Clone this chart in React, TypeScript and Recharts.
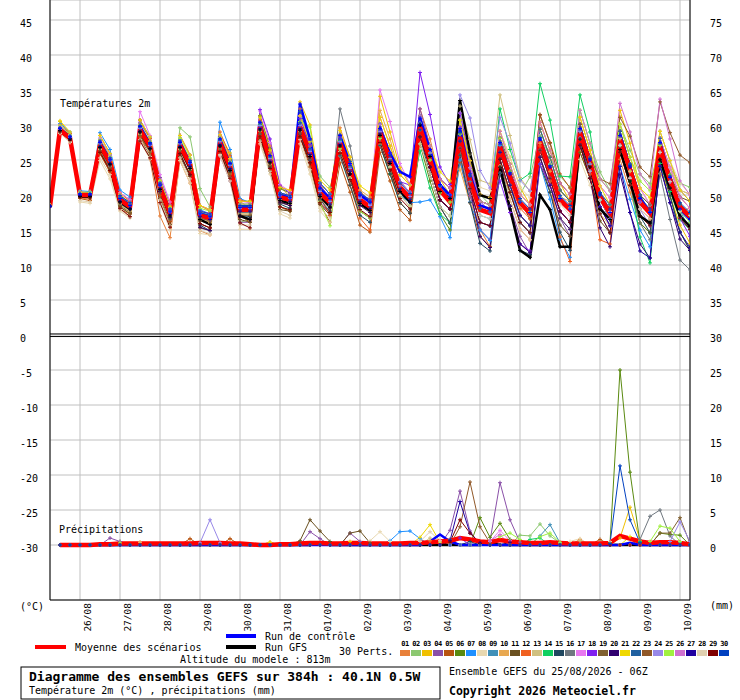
import {
  ComposedChart,
  Line,
  XAxis,
  YAxis,
  CartesianGrid,
  ReferenceLine,
} from "recharts";

// 6-hourly steps from 25/08 06Z (index 0) to +384h (index 64)
const DAY_LABELS = [
  "26/08", "27/08", "28/08", "29/08", "30/08", "31/08", "01/09", "02/09",
  "03/09", "04/09", "05/09", "06/09", "07/09", "08/09", "09/09", "10/09",
];
const DAY_STEPS = [3, 7, 11, 15, 19, 23, 27, 31, 35, 39, 43, 47, 51, 55, 59, 63];
const TEMP_TICKS = [-30, -25, -20, -15, -10, -5, 0, 5, 10, 15, 20, 25, 30, 35, 40, 45];
const MM_TICKS = [0, 5, 10, 15, 20, 25, 30, 35, 40, 45, 50, 55, 60, 65, 70, 75];

const MEMBER_COLORS = [
  "#E8803A", "#8CC870", "#F0C000", "#8A50A8", "#B85410", "#5A8A10", "#1E90FF", "#E8D8B0",
  "#4090B8", "#E8A850", "#6A5020", "#F06020", "#D0C080", "#10D060", "#204860", "#707880",
  "#E878F0", "#8020F0", "#806030", "#300070", "#F0D800", "#2060A0", "#905828", "#9888E8",
  "#A0F040", "#D070D0", "#2000A0", "#E0D0B0", "#800000", "#0040C0",
];

// temperature 2m (°C)
const MEAN_T = [18.4, 29.3,28.1,20.0,20.0, 27.1,24.7,19.3,18.3, 29.3,26.9,21.1,17.4, 27.1,24.3,17.1,16.7, 27.4,24.0,17.9,17.9, 29.7,25.0,19.7,19.3, 29.7,26.0,20.3,18.9, 27.4,23.6,19.3,18.3, 28.9,25.0,21.1,19.6, 29.7,25.0,20.7,19.0, 28.3,22.1,17.9,17.4, 26.9,22.6,18.9,17.4, 27.6,23.6,19.3,17.9, 28.9,24.6,19.7,17.4, 27.9,23.6,19.0,17.4, 26.9,22.1,18.3,16.9];
const CTRL_T = [18.4, 29.5,28.3,20.1,20.1, 27.5,25.0,19.5,18.5, 29.8,27.3,21.4,17.6, 27.5,24.6,17.3,16.9, 28.0,24.5,18.2,18.2, 30.4,25.6,20.0,19.6, 33.0,28.0,21.0,19.5, 28.5,24.5,20.0,19.0, 29.5,26.0,23.3,22.6, 31.0,26.5,21.5,20.0, 29.5,23.0,18.5,18.0, 27.5,23.0,19.0,17.5, 28.0,24.0,19.5,18.0, 29.5,25.0,20.0,17.5, 28.5,24.0,19.5,17.5, 27.5,22.5,18.0,16.5];
const GFS_T = [18.4, 29.2,28.0,19.8,19.8, 26.8,24.4,19.0,18.0, 29.0,26.6,20.8,17.0, 26.8,23.8,16.5,15.8, 27.0,23.5,17.0,16.5, 29.3,24.6,19.2,18.8, 29.3,25.5,19.8,18.3, 27.0,23.0,18.8,17.8, 28.5,24.5,20.5,19.0, 30.0,25.5,20.5,19.5, 33.5,26.0,20.0,19.5, 24.0,18.0,12.1,11.1, 20.0,17.9,12.6,12.6, 28.0,24.0,18.0,16.5, 26.5,22.0,17.0,16.0, 25.0,21.0,17.0,15.5];

const T01 = [18.4, 29.8,28.5,19.6,19.4, 25.9,23.3,17.9,17.3, 28.7,25.1,17.0,13.9, 24.9,21.7,14.9,14.3, 28.6,25.0,19.1,18.1, 31.3,27.0,21.3,19.7, 32.3,28.0,21.7,20.1, 29.6,25.4,20.7,18.7, 31.1,27.0,22.9,21.4, 32.3,28.0,22.3,21.0, 25.7,19.9,15.1,12.6, 24.1,19.4,15.1,13.6, 30.4,26.4,21.7,20.1, 31.1,26.4,20.3,18.6, 25.1,20.4,16.0,14.6, 23.1,20.9,17.7,18.1];
const T02 = [18.3, 29.0,27.8,20.3,20.5, 26.5,24.3,19.7,18.9, 29.7,27.5,21.9,18.2, 29.6,28.3,20.9,18.3, 26.6,23.0,16.1,16.5, 28.3,24.0,18.3,17.7, 31.3,28.0,22.7,21.1, 25.6,21.4,17.7,16.7, 27.1,23.0,19.9,18.4, 27.3,23.0,18.3,17.0, 30.7,24.9,20.1,18.6, 23.1,20.4,20.1,22.6, 28.4,25.4,22.7,21.1, 32.1,27.4,23.3,20.6, 30.1,26.4,23.0,21.6, 27.1,23.9,21.7,21.1];
const T03 = [18.5, 30.5,28.8,19.8,19.7, 27.9,25.3,18.7,17.7, 30.7,28.1,20.9,16.6, 27.9,24.7,17.9,16.3, 28.6,26.0,19.1,19.1, 30.3,26.0,20.3,19.7, 33.3,30.0,21.7,19.1, 28.6,24.4,19.7,17.7, 34.1,29.0,23.9,21.4, 31.3,27.0,22.3,20.0, 29.7,24.9,20.1,19.6, 29.1,25.4,21.1,18.6, 30.4,26.4,21.7,19.1, 26.1,22.4,17.3,15.6, 32.1,27.4,21.0,18.6, 24.1,19.9,15.7,13.1];
const T04 = [18.4, 29.5,28.3,20.2,20.1, 27.9,25.7,20.3,19.3, 30.3,28.1,22.5,18.6, 26.9,23.7,15.9,15.3, 25.6,22.0,16.1,16.1, 29.3,25.0,19.3,18.7, 28.3,25.0,18.7,17.1, 27.6,24.4,19.7,18.7, 30.1,26.0,21.9,20.4, 32.3,27.0,21.3,19.0, 26.7,19.9,15.1,13.6, 23.1,18.4,14.1,11.6, 25.4,21.4,16.7,14.1, 27.1,23.4,18.3,16.6, 29.1,24.4,20.0,18.6, 29.1,24.9,20.7,19.1];
const T05 = [18.3, 29.2,28.0,19.5,19.2, 25.9,23.3,18.3,17.3, 28.3,26.1,19.9,16.2, 25.9,22.7,15.9,15.3, 26.6,23.0,17.1,16.1, 28.3,24.0,18.3,17.7, 28.3,24.0,18.7,16.1, 24.6,20.4,15.7,14.7, 26.1,22.0,17.9,16.4, 27.3,23.0,18.3,16.0, 24.7,18.9,14.1,12.6, 27.1,23.4,19.1,17.6, 31.4,27.5,23.0,21.0, 30.1,25.4,19.3,16.6, 28.1,23.4,19.0,17.6, 28.1,23.9,19.7,18.1];
const T06 = [18.5, 29.6,28.4,20.4,20.3, 27.3,24.9,19.5,18.5, 29.1,26.7,20.5,17.0, 28.5,25.7,18.5,17.9, 28.2,25.0,19.1,19.1, 31.3,26.6,20.9,20.3, 30.3,27.0,21.7,20.1, 26.6,22.4,18.7,17.7, 27.1,23.0,18.9,17.4, 27.3,22.0,17.3,15.0, 28.7,22.9,18.1,17.6, 25.1,20.4,16.1,14.6, 26.4,22.4,17.7,16.1, 30.1,25.4,20.3,17.6, 26.1,21.4,16.0,14.6, 25.1,19.9,14.7,12.1];
const T07 = [18.4, 30.2,29.0,20.6,20.5, 28.9,26.5,20.7,19.7, 30.7,28.3,22.1,18.2, 27.9,24.7,17.9,17.3, 30.4,26.5,19.5,18.9, 30.3,26.0,20.3,19.7, 31.3,27.0,21.7,20.1, 27.6,23.4,18.7,17.7, 29.0,24.5,20.0,18.9, 19.0,19.3,16.9,13.9, 25.0,19.0,15.0,13.5, 27.1,21.4,16.1,14.6, 24.4,19.4,13.7,11.1, 27.1,22.4,17.3,14.6, 24.1,19.4,15.0,12.6, 24.1,20.9,17.7,16.1];
const T08 = [18.3, 28.8,27.5,19.0,18.8, 24.9,22.3,17.7,16.7, 27.7,25.1,18.9,15.0, 24.9,21.7,14.5,14.3, 25.6,22.0,15.1,15.1, 27.3,23.0,17.3,16.7, 27.3,23.0,17.7,16.1, 25.6,22.4,17.7,16.7, 27.1,24.0,19.9,18.4, 28.3,24.0,19.3,18.0, 31.7,25.9,21.1,20.6, 29.1,25.4,21.1,19.6, 24.4,20.4,16.7,15.1, 25.1,21.4,17.3,15.6, 30.1,25.4,21.0,18.6, 29.1,24.9,21.7,20.1];
const T09 = [18.4, 29.4,28.2,20.1,20.0, 26.9,24.5,19.1,18.1, 29.5,27.1,21.3,17.6, 27.3,24.5,17.3,16.9, 27.8,24.4,18.1,18.1, 29.9,25.4,19.9,19.5, 30.3,26.4,20.7,19.1, 28.2,24.4,20.3,19.3, 30.1,26.0,21.9,20.4, 31.3,26.0,21.3,20.0, 27.7,21.9,17.1,16.6, 26.1,21.4,17.1,15.6, 28.4,24.4,19.7,18.1, 29.1,24.4,19.3,16.6, 29.1,24.4,20.0,18.6, 27.1,21.9,17.7,15.1];
const T10 = [18.5, 29.0,27.9,19.9,19.9, 26.7,24.1,18.7,17.7, 28.7,26.1,20.5,16.6, 26.5,23.7,16.5,16.1, 27.0,23.6,17.3,17.3, 29.1,24.6,19.1,18.7, 29.1,25.6,19.7,18.3, 28.6,25.4,20.7,19.7, 32.1,28.0,22.9,21.4, 30.3,26.0,21.3,20.0, 23.7,18.9,16.1,15.6, 24.1,20.4,18.1,17.6, 27.4,23.4,19.7,19.1, 30.1,25.4,21.3,19.6, 28.1,23.4,19.0,17.6, 28.1,23.9,20.7,20.1];
const T11 = [18.3, 29.1,27.7,19.7,19.6, 26.1,23.7,18.3,17.3, 27.9,25.7,19.5,15.8, 25.5,22.7,15.3,14.9, 26.2,22.6,16.5,16.1, 27.9,23.4,17.9,17.7, 28.3,24.6,18.7,17.1, 26.2,22.4,17.7,16.7, 28.1,24.0,19.9,18.4, 28.3,24.0,19.3,18.0, 29.7,23.9,19.1,18.6, 28.1,24.4,19.1,16.6, 25.4,20.4,15.7,14.1, 26.1,22.4,16.3,14.6, 26.1,22.4,18.0,16.6, 26.1,22.9,19.7,19.1];
const T12 = [18.6, 30.0,28.8,20.5,20.2, 28.5,25.9,20.3,19.1, 30.7,28.1,21.9,17.8, 28.5,25.7,18.5,17.7, 29.0,25.6,19.3,18.9, 30.7,26.0,20.3,19.5, 31.3,27.0,19.7,17.1, 26.6,21.4,16.7,15.0, 28.1,24.0,18.9,17.4, 29.3,25.0,20.3,19.0, 28.7,22.9,18.1,17.6, 26.1,21.4,18.1,16.6, 27.0,22.0,14.0,10.5, 28.0,23.0,13.6,13.0, 27.1,22.4,18.0,16.6, 27.1,22.9,18.7,17.1];
const T13 = [18.4, 29.3,28.0,19.8,19.8, 26.5,24.1,18.7,17.7, 28.7,26.3,20.5,17.0, 26.5,23.7,16.7,16.3, 26.6,23.4,17.3,17.3, 29.3,24.4,19.3,18.7, 29.3,25.6,20.1,18.7, 27.0,23.2,18.7,17.7, 28.1,24.0,19.9,18.4, 30.3,26.0,21.3,20.0, 32.7,27.9,22.1,21.6, 34.3,28.5,22.5,20.5, 29.4,25.4,20.7,19.1, 29.1,24.4,19.3,17.6, 28.1,23.4,19.0,17.6, 28.1,23.9,20.7,20.1];
const T14 = [18.5, 29.7,28.5,20.3,20.2, 27.5,25.1,19.7,18.7, 29.7,27.3,21.5,17.8, 27.5,24.7,17.5,17.1, 27.8,24.4,18.3,18.3, 30.1,25.4,20.1,19.7, 30.3,26.6,20.9,19.5, 27.8,24.0,19.7,18.7, 29.1,25.0,20.9,19.4, 26.3,21.0,17.3,16.0, 29.7,23.9,19.1,18.6, 32.3,26.5,22.1,23.1, 35.9,30.7,22.7,22.6, 34.3,29.0,20.0,16.5, 27.0,22.0,14.0,10.3, 24.5,20.5,16.5,15.0];
const T15 = [18.4, 29.4,28.1,20.0,19.9, 26.9,24.3,19.1,17.9, 29.1,26.5,20.7,16.6, 25.9,22.9,15.7,14.9, 27.0,23.4,17.1,16.9, 28.7,24.0,18.7,18.1, 28.7,25.0,19.3,17.7, 25.6,21.4,17.1,16.1, 27.1,23.0,18.9,17.4, 28.3,23.0,18.3,16.0, 25.7,18.9,13.1,12.0, 23.1,18.4,12.1,11.5, 24.4,20.4,14.7,12.1, 27.1,23.4,18.3,16.6, 27.1,22.4,17.0,14.6, 25.1,19.9,14.7,12.1];
const T16 = [18.4, 29.1,27.9,19.9,19.8, 26.7,24.1,18.7,17.9, 28.9,26.5,20.7,16.8, 26.7,23.9,16.7,16.3, 27.0,23.6,17.5,17.5, 29.3,24.6,19.3,18.9, 29.3,25.6,19.9,18.5, 32.3,27.0,19.7,17.7, 28.1,24.0,19.9,18.4, 28.3,24.0,19.3,18.0, 26.7,20.9,16.1,15.6, 25.1,20.4,16.1,14.6, 26.4,22.4,17.7,16.1, 28.1,23.4,18.3,15.6, 26.1,21.4,16.0,13.6, 23.0,16.5,10.7,9.3];
const T17 = [18.5, 29.8,28.6,20.4,20.3, 28.1,25.7,20.3,19.3, 31.9,28.5,22.9,19.0, 28.5,25.7,18.5,17.9, 28.6,25.2,19.1,18.9, 32.0,27.5,21.5,20.5, 31.3,28.0,21.7,20.1, 28.6,24.4,19.7,18.7, 35.0,30.5,24.5,21.5, 31.3,27.0,22.3,21.0, 29.7,23.9,20.1,19.6, 28.1,23.4,20.1,18.6, 28.4,24.4,19.7,18.1, 30.1,25.4,21.3,19.6, 30.1,25.4,21.0,18.6, 28.1,23.9,19.7,18.1];
const T18 = [18.4, 29.6,28.4,20.2,20.1, 27.7,25.3,19.9,18.9, 29.9,27.5,21.7,17.8, 27.7,24.9,17.7,17.3, 28.2,24.8,18.7,18.7, 32.2,28.0,21.3,20.3, 30.9,27.2,21.3,19.7, 28.2,24.4,20.3,19.3, 29.1,26.0,21.9,21.4, 37.5,31.5,24.0,21.5, 31.7,24.9,19.1,17.6, 22.0,17.5,13.0,12.0, 24.4,21.4,17.7,16.1, 28.1,23.4,18.3,15.6, 29.1,24.4,19.0,17.6, 27.1,21.9,16.7,14.1];
const T19 = [18.3, 29.0,27.8,19.8,19.7, 26.3,23.9,18.5,17.5, 28.5,26.1,20.3,16.6, 26.3,23.5,16.3,15.9, 26.6,23.2,17.1,17.1, 28.7,24.2,18.9,18.5, 28.9,25.2,19.5,18.1, 26.6,23.0,18.7,17.7, 28.1,25.0,21.9,20.4, 31.3,27.0,22.3,21.0, 27.7,22.9,19.1,18.6, 26.1,21.4,17.1,15.6, 29.4,25.4,20.7,19.1, 29.1,24.4,19.3,16.6, 29.1,24.4,20.0,18.6, 27.1,22.9,18.7,17.1];
const T20 = [18.4, 29.3,28.1,20.0,20.0, 26.8,24.3,19.0,18.0, 29.0,26.6,20.5,16.8, 26.9,24.1,15.4,14.9, 27.0,23.6,17.0,16.5, 29.5,24.8,19.0,18.5, 29.2,25.5,19.8,18.2, 27.0,23.0,18.5,17.5, 28.5,24.5,20.5,19.0, 28.3,24.0,19.3,18.0, 26.7,20.9,14.1,12.5, 25.1,18.4,13.0,11.8, 25.4,21.4,16.7,15.1, 27.1,22.4,15.3,12.6, 23.0,17.5,13.0,11.0, 24.1,18.9,13.7,12.1];
const T21 = [18.5, 30.6,29.0,20.3,20.3, 28.5,25.9,20.1,18.9, 30.7,28.3,22.1,18.4, 28.5,25.7,18.5,17.9, 28.6,25.2,19.1,19.1, 31.1,26.4,21.1,20.7, 31.3,27.6,22.1,20.7, 29.2,25.4,21.3,20.3, 31.1,27.0,22.9,21.4, 31.3,27.0,23.3,22.0, 30.7,24.9,20.1,19.6, 29.1,24.4,20.1,18.6, 29.4,25.4,20.7,19.1, 31.1,26.4,21.3,18.6, 30.1,25.4,21.0,19.6, 29.1,24.9,20.7,19.1];
const T22 = [18.4, 29.5,28.3,20.2,20.1, 27.5,25.1,19.7,18.7, 29.7,27.3,21.5,17.8, 27.7,24.7,17.5,17.1, 27.8,24.4,18.3,18.3, 30.3,25.6,20.3,19.9, 31.9,28.0,21.7,20.1, 28.6,24.8,20.3,19.3, 30.1,26.0,21.9,20.4, 31.3,26.0,21.3,20.0, 28.7,22.9,18.1,17.6, 28.1,23.4,19.1,17.6, 29.4,25.4,20.7,19.1, 30.1,25.4,20.3,18.6, 29.1,24.4,20.0,17.6, 28.1,22.9,18.7,17.1];
const T23 = [18.4, 29.2,28.0,19.9,19.9, 26.7,24.3,18.9,18.1, 28.9,26.5,20.7,17.0, 26.7,23.9,16.7,16.3, 27.2,23.8,17.7,17.7, 29.5,24.8,19.5,19.1, 29.5,25.8,20.1,18.7, 27.0,23.4,19.1,18.1, 28.7,25.0,20.9,19.4, 29.3,25.0,20.3,19.0, 29.7,22.9,19.1,18.6, 28.1,23.4,19.1,17.6, 31.5,27.4,21.7,20.1, 30.1,25.4,22.3,21.6, 31.1,28.4,24.0,22.6, 33.3,28.9,25.7,24.6];
const T24 = [18.4, 29.4,28.2,20.1,20.0, 27.3,24.9,19.5,18.5, 29.5,27.1,21.3,17.6, 27.3,24.5,17.3,16.9, 27.6,24.2,18.1,18.1, 29.9,25.2,19.9,19.5, 29.9,26.2,20.5,19.1, 27.6,23.8,19.5,18.5, 29.1,25.2,21.3,19.8, 30.3,26.0,21.3,20.0, 34.3,31.0,23.5,21.0, 31.1,27.4,22.1,20.6, 28.4,24.4,19.7,18.1, 29.1,24.4,19.3,16.6, 27.1,22.4,18.0,15.6, 26.1,20.9,16.7,15.1];
const T25 = [18.5, 29.9,28.6,20.4,20.4, 27.9,25.5,19.9,18.9, 30.1,27.7,21.9,18.2, 28.1,25.3,18.1,17.7, 28.2,24.8,18.7,18.7, 30.3,25.6,20.3,19.9, 30.5,29.7,19.0,15.6, 26.6,22.4,17.7,16.7, 28.1,24.0,19.9,18.4, 29.3,25.0,20.3,19.0, 28.7,22.9,19.1,18.6, 28.1,23.4,19.1,17.6, 28.4,24.4,19.7,18.1, 32.1,27.4,22.3,20.6, 30.1,25.4,22.0,20.6, 27.1,22.9,17.7,16.1];
const T26 = [18.4, 29.6,28.4,20.2,20.1, 27.7,25.3,19.9,18.9, 29.9,27.5,21.7,18.0, 27.7,24.9,17.7,17.3, 28.0,24.6,18.5,18.5, 30.3,25.6,20.3,19.9, 30.3,26.6,20.9,19.5, 28.0,24.2,19.9,18.9, 30.1,26.0,21.9,20.4, 31.3,27.0,22.3,21.0, 29.7,23.9,19.1,18.6, 29.1,24.4,20.1,18.6, 30.4,26.4,21.7,20.1, 32.1,27.4,22.3,20.6, 33.1,29.0,23.0,21.0, 33.7,28.0,22.0,20.0];
const T27 = [18.3, 29.2,28.0,19.9,19.9, 26.9,24.5,19.1,18.1, 29.1,26.7,20.9,17.2, 26.9,24.1,16.9,16.5, 27.2,23.8,17.7,17.7, 29.5,24.8,19.5,19.1, 29.5,25.8,20.1,18.7, 27.2,23.4,19.1,18.1, 28.7,24.8,20.9,19.4, 29.3,24.0,19.3,18.0, 27.7,20.9,16.1,15.6, 26.1,21.4,17.1,15.6, 26.4,22.4,17.7,16.1, 28.1,23.4,18.3,15.6, 24.1,17.5,12.0,11.0, 24.1,18.9,14.7,12.5];
const T28 = [18.3, 28.9,27.6,19.2,19.0, 25.3,22.9,17.9,16.9, 27.9,25.5,19.3,15.6, 25.3,22.3,14.9,14.5, 25.8,22.4,15.7,15.7, 27.7,23.4,17.7,17.1, 27.9,23.6,18.1,16.7, 26.2,22.4,17.9,16.9, 27.5,24.0,19.9,18.4, 27.3,23.0,18.3,17.0, 26.7,20.9,17.1,16.6, 24.1,19.4,15.1,13.6, 26.4,22.4,18.7,17.1, 28.1,23.4,19.3,17.6, 27.1,22.4,18.0,16.6, 26.1,21.9,17.7,17.1];
const T29 = [18.4, 29.0,27.8,19.7,19.6, 26.1,23.5,18.1,16.9, 27.7,25.3,18.9,15.4, 25.9,22.9,15.9,15.3, 26.2,22.4,16.0,15.3, 28.3,23.8,18.3,17.9, 28.3,24.6,18.9,17.5, 26.0,22.2,17.9,16.9, 27.5,23.6,19.5,18.0, 28.3,24.0,19.3,18.0, 26.7,20.9,16.1,15.6, 25.1,20.4,16.1,14.6, 26.4,22.4,17.7,16.1, 27.1,22.4,17.3,14.6, 26.1,21.4,17.0,15.6, 25.1,20.9,16.7,15.1];
const T30 = [18.4, 29.6,28.4,20.2,20.2, 27.7,25.3,19.9,18.9, 29.9,27.5,21.7,18.0, 27.7,24.9,17.7,17.3, 28.0,24.6,18.5,18.5, 30.3,25.6,20.3,19.9, 30.3,26.6,20.9,19.5, 28.0,24.2,19.9,18.9, 29.5,25.6,21.7,20.2, 30.3,25.6,21.3,19.6, 28.9,22.7,18.5,18.0, 27.5,23.2,19.5,18.0, 28.2,24.2,19.9,18.5, 29.5,25.2,20.3,18.0, 28.5,24.2,19.6,18.0, 27.5,22.7,18.9,17.5];
const TEMP_MEMBERS = [T01, T02, T03, T04, T05, T06, T07, T08, T09, T10, T11, T12, T13, T14, T15, T16, T17, T18, T19, T20, T21, T22, T23, T24, T25, T26, T27, T28, T29, T30];

// precipitation (mm per 6h); first step has no value
const MEAN_P = [null, 0.0,0.0,0.0,0.0,0.1,0.1,0.2,0.2, 0.2,0.2,0.2,0.2,0.2,0.2,0.3,0.3, 0.3,0.2,0.2,0.1,0.0,0.0,0.1,0.1, 0.2,0.3,0.3,0.2,0.2,0.3,0.3,0.2, 0.2,0.2,0.2,0.3,0.3,0.4,0.5,0.6, 1.0,0.8,0.5,0.4,0.7,0.5,0.4,0.3, 0.3,0.4,0.3,0.2,0.2,0.2,0.2,0.3, 1.3,0.9,0.5,0.3,0.4,0.4,0.3,0.1];
// rainy steps only [step, mm]; other steps are dry
const CTRL_P = [[38, 0.5], [39, 1.5], [40, 0.5], [58, 0.3]];
const GFS_P = [[27, 0.4], [44, 0.3]];
const P01 = [[38, 0.6], [53, 0.8]];
const P02 = [[7, 0.5], [47, 1.4], [48, 1.3], [49, 3.0], [50, 1.3], [51, 0.3]];
const P03 = [[30, 0.5], [57, 1.0], [58, 5.4], [59, 0.7]];
const P04 = [[6, 1.0], [7, 0.5], [26, 1.9], [27, 0.9], [30, 1.7], [31, 0.5], [40, 2.1], [41, 7.7], [42, 2.0], [44, 0.6], [45, 8.9], [46, 3.6], [47, 0.4]];
const P05 = [[14, 0.9], [18, 0.9], [55, 0.8]];
const P06 = [[43, 3.9], [44, 1.1], [45, 3.1], [46, 0.8], [56, 0.3], [57, 25.0], [58, 10.4], [59, 0.3], [61, 1.7], [62, 1.5], [63, 1.4]];
const P07 = [[34, 0.6], [35, 1.9], [36, 2.0], [37, 0.9], [39, 0.4]];
const P08 = [[9, 0.4], [32, 0.6], [33, 1.9], [34, 0.5], [52, 0.5], [53, 0.9]];
const P09 = [[49, 1.3], [50, 2.9], [51, 0.3], [63, 0.4]];
const P10 = [[9, 0.4], [22, 0.4]];
const P11 = [[25, 0.6], [26, 3.6], [27, 2.0], [28, 0.5], [30, 1.7], [31, 2.0], [32, 0.3]];
const P12 = [[40, 0.3]];
const P13 = [[38, 1.0], [53, 0.6]];
const P14 = [[48, 0.8], [49, 1.0], [59, 0.5]];
const P15 = [[42, 0.5]];
const P16 = [[59, 0.8], [60, 4.1], [61, 5.0], [62, 1.3]];
const P17 = [[39, 0.6], [44, 0.5], [45, 2.1], [46, 0.6]];
const P18 = [[41, 1.0]];
const P19 = [[61, 1.7], [62, 1.7], [63, 3.9], [64, 0.2]];
const P20 = [[46, 0.4]];
const P21 = [[22, 0.4], [37, 1.1], [38, 2.9], [39, 0.4], [58, 1.2]];
const P22 = [[40, 0.8]];
const P23 = [[41, 2.6], [42, 9.0], [43, 2.6], [44, 0.3]];
const P24 = [[15, 0.3], [16, 3.6], [17, 0.3], [62, 0.5], [63, 3.3], [64, 0.5]];
const P25 = [[7, 0.3], [45, 1.2], [46, 1.7], [47, 0.8], [49, 1.2], [50, 1.7], [51, 0.4], [60, 0.5], [61, 2.7], [62, 2.4], [63, 0.5]];
const P26 = [[44, 0.6], [45, 1.5]];
const P27 = [[40, 0.6], [41, 6.2], [42, 1.7], [43, 0.3]];
const P28 = [[37, 0.5], [38, 1.9], [39, 0.6], [56, 0.5]];
const P29 = [[40, 0.4], [41, 3.6], [42, 1.7], [43, 0.2]];
const P30 = [[56, 0.2], [57, 11.3], [58, 3.6], [59, 0.3]];
const PRECIP_MEMBERS = [P01, P02, P03, P04, P05, P06, P07, P08, P09, P10, P11, P12, P13, P14, P15, P16, P17, P18, P19, P20, P21, P22, P23, P24, P25, P26, P27, P28, P29, P30];

function rainSeries(events: number[][]) {
  const s: (number | null)[] = MEAN_P.map((v) => (v === null ? null : 0));
  events.forEach(([i, mm]) => {
    s[i] = mm;
  });
  return s;
}

const ctrlRain = rainSeries(CTRL_P);
const gfsRain = rainSeries(GFS_P);
const memberRain = PRECIP_MEMBERS.map(rainSeries);

const data = MEAN_T.map((m, i) => {
  const row: Record<string, number | null> = {
    i,
    tm: m,
    tc: CTRL_T[i],
    tg: GFS_T[i],
    pm: MEAN_P[i],
    pc: ctrlRain[i],
    pg: gfsRain[i],
  };
  TEMP_MEMBERS.forEach((s, k) => {
    row[`t${k}`] = s[i];
    row[`p${k}`] = memberRain[k][i];
  });
  return row;
});

const MONO = "'DejaVu Sans Mono', monospace";

// eslint-disable-next-line @typescript-eslint/no-explicit-any
function Cross(props: any) {
  const { cx, cy, stroke, index } = props;
  if (cx == null || cy == null || Number.isNaN(cy)) return <g key={`c${index}`} />;
  return (
    <path
      key={`c${index}`}
      d={`M${cx - 2},${cy}h4M${cx},${cy - 2}v4`}
      stroke={stroke}
      strokeWidth={1}
      fill="none"
    />
  );
}

// eslint-disable-next-line @typescript-eslint/no-explicit-any
function LeftTick(props: any) {
  const { y, payload } = props;
  return (
    <text x={20} y={y + 7} fontFamily={MONO} fontSize={10} fill="#000">
      {payload.value}
    </text>
  );
}

// eslint-disable-next-line @typescript-eslint/no-explicit-any
function RightTick(props: any) {
  const { y, payload } = props;
  return (
    <text x={710} y={y + 7} fontFamily={MONO} fontSize={10} fill="#000">
      {payload.value}
    </text>
  );
}

// eslint-disable-next-line @typescript-eslint/no-explicit-any
function DateTick(props: any) {
  const { x, payload } = props;
  const k = DAY_STEPS.indexOf(payload.value);
  const ax = x + 11;
  const ay = 603;
  return (
    <text
      x={ax}
      y={ay}
      transform={`rotate(-90, ${ax}, ${ay})`}
      textAnchor="end"
      fontFamily={MONO}
      fontSize={9.5}
      fill="#000"
    >
      {DAY_LABELS[k]}
    </text>
  );
}

function Overlay() {
  return (
    <svg
      width={740}
      height={700}
      style={{ position: "absolute", left: 0, top: 0, pointerEvents: "none" }}
      fontFamily={MONO}
      fontSize={10}
    >
      <text x={60} y={107}>Températures 2m</text>
      <text x={59} y={533}>Précipitations</text>
      <text x={20} y={610}>(°C)</text>
      <text x={710} y={609}>(mm)</text>

      <line x1={35} x2={66} y1={647} y2={647} stroke="#ff0000" strokeWidth={4} />
      <text x={75} y={651}>Moyenne des scénarios</text>
      <line x1={226} x2={256} y1={636} y2={636} stroke="#0000ff" strokeWidth={4} />
      <text x={265} y={640}>Run de contrôle</text>
      <line x1={226} x2={256} y1={647} y2={647} stroke="#000" strokeWidth={4} />
      <text x={265} y={651}>Run GFS</text>
      <text x={339} y={655}>30 Perts.</text>
      <text x={180} y={663}>Altitude du modele : 813m</text>

      {MEMBER_COLORS.map((c, k) => (
        <g key={c + k}>
          <text
            x={405 + 11 * k}
            y={646}
            fontSize={7}
            fontWeight="bold"
            textAnchor="middle"
            letterSpacing={-0.4}
          >
            {String(k + 1).padStart(2, "0")}
          </text>
          <rect x={400 + 11 * k} y={650} width={10} height={6} fill={c} />
        </g>
      ))}

      <rect x={21} y={667} width={419} height={32} fill="none" stroke="#000" strokeWidth={1} />
      <text x={29} y={681} fontSize={13} fontWeight="bold">
        Diagramme des ensembles GEFS sur 384h : 40.1N 0.5W
      </text>
      <text x={29} y={694}>Température 2m (°C) , précipitations (mm)</text>
      <text x={449} y={675}>Ensemble GEFS du 25/08/2026 - 06Z</text>
      <text x={449} y={695} fontSize={11.5} fontWeight="bold">
        Copyright 2026 Meteociel.fr
      </text>
    </svg>
  );
}

export default function App() {
  return (
    <div
      style={{
        position: "absolute",
        left: 0,
        top: 0,
        width: 740,
        height: 700,
        background: "#fff",
      }}
    >
      <ComposedChart
        width={740}
        height={700}
        data={data}
        margin={{ top: 0, right: 0, bottom: 0, left: 0 }}
      >
        <CartesianGrid yAxisId="t" stroke="#c0c0c0" />
        <XAxis
          dataKey="i"
          type="number"
          domain={[0, 64]}
          ticks={DAY_STEPS}
          interval={0}
          height={100}
          tickLine={false}
          axisLine={{ stroke: "#000" }}
          tick={DateTick}
          allowDataOverflow
        />
        <YAxis
          yAxisId="t"
          type="number"
          domain={[-37.857, 47.857]}
          ticks={TEMP_TICKS}
          interval={0}
          width={50}
          tickLine={false}
          axisLine={{ stroke: "#000" }}
          tick={LeftTick}
          allowDataOverflow
        />
        <YAxis
          yAxisId="p"
          orientation="right"
          type="number"
          domain={[-7.857, 77.857]}
          ticks={MM_TICKS}
          interval={0}
          width={50}
          tickLine={false}
          axisLine={{ stroke: "#000" }}
          tick={RightTick}
          allowDataOverflow
        />
        <ReferenceLine yAxisId="t" y={0.15} stroke="#000" />
        <ReferenceLine yAxisId="t" y={-0.22} stroke="#000" />

        {MEMBER_COLORS.map((c, k) => (
          <Line
            key={`t${k}`}
            yAxisId="t"
            dataKey={`t${k}`}
            type="linear"
            stroke={c}
            strokeWidth={1}
            dot={Cross}
            activeDot={false}
            isAnimationActive={false}
          />
        ))}
        <Line yAxisId="t" dataKey="tg" type="linear" stroke="#000" strokeWidth={2.5} dot={Cross} activeDot={false} isAnimationActive={false} />
        <Line yAxisId="t" dataKey="tc" type="linear" stroke="#0000ff" strokeWidth={2.5} dot={Cross} activeDot={false} isAnimationActive={false} />
        <Line yAxisId="t" dataKey="tm" type="linear" stroke="#ff0000" strokeWidth={4.5} dot={false} activeDot={false} isAnimationActive={false} />

        {MEMBER_COLORS.map((c, k) => (
          <Line
            key={`p${k}`}
            yAxisId="p"
            dataKey={`p${k}`}
            type="linear"
            stroke={c}
            strokeWidth={1}
            dot={Cross}
            activeDot={false}
            isAnimationActive={false}
          />
        ))}
        <Line yAxisId="p" dataKey="pg" type="linear" stroke="#000" strokeWidth={2.5} dot={false} activeDot={false} isAnimationActive={false} />
        <Line yAxisId="p" dataKey="pc" type="linear" stroke="#0000ff" strokeWidth={2.5} dot={false} activeDot={false} isAnimationActive={false} />
        <Line yAxisId="p" dataKey="pm" type="linear" stroke="#ff0000" strokeWidth={4.5} dot={false} activeDot={false} isAnimationActive={false} />
      </ComposedChart>
      <Overlay />
    </div>
  );
}
